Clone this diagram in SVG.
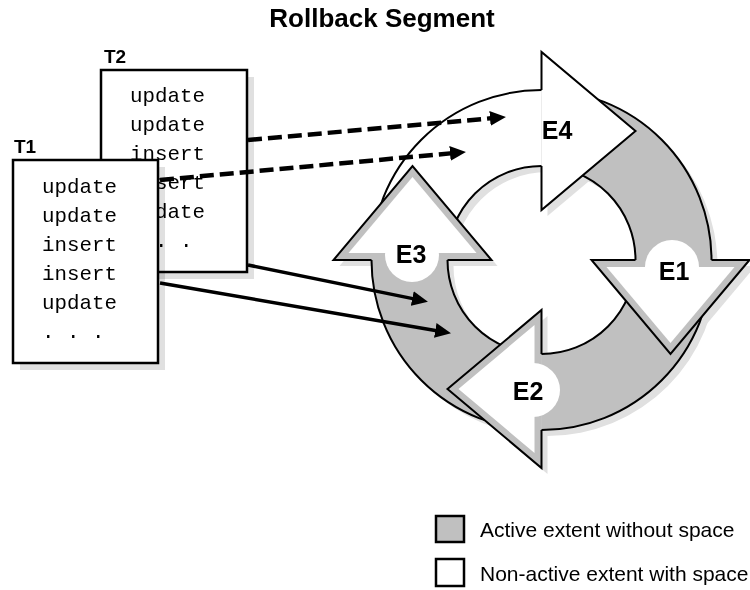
<svg xmlns="http://www.w3.org/2000/svg" width="750" height="590" viewBox="0 0 750 590">
<defs>
<style>
.bold{font-family:"Liberation Sans",Arial,sans-serif;font-weight:bold;fill:#000}
.mono{font-family:"Liberation Mono","Courier New",monospace;font-size:20.8px;fill:#000}
.leg{font-family:"Liberation Sans",Arial,sans-serif;font-size:21px;fill:#000}
.box{fill:#fff;stroke:#000;stroke-width:2.5}
.shadow{fill:#e0e0e0;stroke:none;mix-blend-mode:multiply}
.edge{fill:none;stroke:#000;stroke-width:2;stroke-linejoin:miter}
.grey{fill:#c0c0c0}
.white{fill:#fff}
.dash{fill:none;stroke:#000;stroke-width:4.5;stroke-dasharray:14 6}
.solid{fill:none;stroke:#000;stroke-width:3.5}
</style>
<marker id="ah" markerUnits="userSpaceOnUse" markerWidth="16" markerHeight="16" refX="3" refY="7.5" orient="auto">
<path d="M0,0 L16,7.5 L0,15 Z" fill="#000"/>
</marker>
</defs>
<rect width="750" height="590" fill="#fff"/>
<g id="title"><text class="bold" x="382" y="27" font-size="26" text-anchor="middle">Rollback Segment</text></g>

<g id="node-T2">
<rect class="shadow" x="108" y="77" width="146" height="202"/>
<rect class="box" x="101" y="70" width="146" height="202"/>
<text class="bold" x="104" y="63" font-size="19">T2</text>
<text class="mono" x="130" y="102">update</text>
<text class="mono" x="130" y="131">update</text>
<text class="mono" x="130" y="160">insert</text>
<text class="mono" x="130" y="189">insert</text>
<text class="mono" x="130" y="218">update</text>
<text class="mono" x="130" y="247">. . .</text>
</g>

<g id="node-T1">
<rect class="shadow" x="20" y="167" width="145" height="203"/>
<rect class="box" x="13" y="160" width="145" height="203"/>
<text class="bold" x="14" y="153" font-size="19">T1</text>
<text class="mono" x="42" y="193">update</text>
<text class="mono" x="42" y="222">update</text>
<text class="mono" x="42" y="251">insert</text>
<text class="mono" x="42" y="280">insert</text>
<text class="mono" x="42" y="309">update</text>
<text class="mono" x="42" y="338">. . .</text>
</g>

<g id="ring">
<g transform="translate(6,6)" fill="#e0e0e0">
<path fill-rule="evenodd" d="M371.5,260 A170,170 0 1,1 711.5,260 A170,170 0 1,1 371.5,260 Z M447.5,260 A94,94 0 1,0 635.5,260 A94,94 0 1,0 447.5,260 Z"/>
<polygon points="541.5,52 635.5,131 541.5,210"/>
<polygon points="591.5,260 749.5,260 670.5,354"/>
<polygon points="541.5,310 541.5,468 447.5,389"/>
<polygon points="333.5,260 491.5,260 412.5,166"/>
</g>
<path class="white" d="M371.5,260 A170,170 0 0,1 541.5,90 L541.5,166 A94,94 0 0,0 447.5,260 Z"/>
<path class="grey" d="M541.5,90 A170,170 0 0,1 711.5,260 L635.5,260 A94,94 0 0,0 541.5,166 Z"/>
<path class="grey" d="M711.5,260 A170,170 0 0,1 541.5,430 L541.5,354 A94,94 0 0,0 635.5,260 Z"/>
<path class="grey" d="M541.5,430 A170,170 0 0,1 371.5,260 L447.5,260 A94,94 0 0,0 541.5,354 Z"/>
<circle class="edge" cx="541.5" cy="260" r="170"/>
<circle class="edge" cx="541.5" cy="260" r="94"/>
</g>

<g id="node-E4">
<polygon class="white" points="541.5,52 635.5,131 541.5,210"/>
<path class="edge" d="M541.5,90 L541.5,52 L635.5,131 L541.5,210 L541.5,166"/>
<text class="bold" x="557" y="139" font-size="25" text-anchor="middle">E4</text>
</g>

<g id="node-E1">
<polygon class="grey" points="591.5,260 749.5,260 670.5,354"/>
<polygon class="white" points="606.5,267 734.5,267 670.5,343"/>
<circle class="white" cx="672" cy="267" r="27"/>
<path class="edge" d="M711.5,260 L749.5,260 L670.5,354 L591.5,260 L635.5,260"/>
<text class="bold" x="674" y="280" font-size="25" text-anchor="middle">E1</text>
</g>

<g id="node-E2">
<polygon class="grey" points="541.5,310 541.5,468 447.5,389"/>
<polygon class="white" points="534.5,325 534.5,453 458.5,389"/>
<circle class="white" cx="533" cy="390" r="27"/>
<path class="edge" d="M541.5,430 L541.5,468 L447.5,389 L541.5,310 L541.5,354"/>
<text class="bold" x="528" y="400" font-size="25" text-anchor="middle">E2</text>
</g>

<g id="node-E3">
<polygon class="grey" points="333.5,260 491.5,260 412.5,166"/>
<polygon class="white" points="348.5,253 476.5,253 412.5,177"/>
<circle class="white" cx="412" cy="255" r="27"/>
<path class="edge" d="M371.5,260 L333.5,260 L412.5,166 L491.5,260 L447.5,260"/>
<text class="bold" x="411" y="263" font-size="25" text-anchor="middle">E3</text>
</g>

<g id="connectors">
<path class="dash" d="M248,140 L493,118.1" marker-end="url(#ah)"/>
<path class="dash" d="M160,180 L453,153.1" marker-end="url(#ah)"/>
<path class="solid" d="M248,265 L415.2,299.1" marker-end="url(#ah)"/>
<path class="solid" d="M160,283 L438.2,331" marker-end="url(#ah)"/>
</g>

<g id="legend">
<rect x="436" y="516" width="28" height="26" fill="#c0c0c0" stroke="#000" stroke-width="2.5"/>
<text class="leg" x="480" y="537">Active extent without space</text>
<rect x="436" y="559" width="28" height="27" fill="#fff" stroke="#000" stroke-width="2.5"/>
<text class="leg" x="480" y="581">Non-active extent with space</text>
</g>
</svg>
